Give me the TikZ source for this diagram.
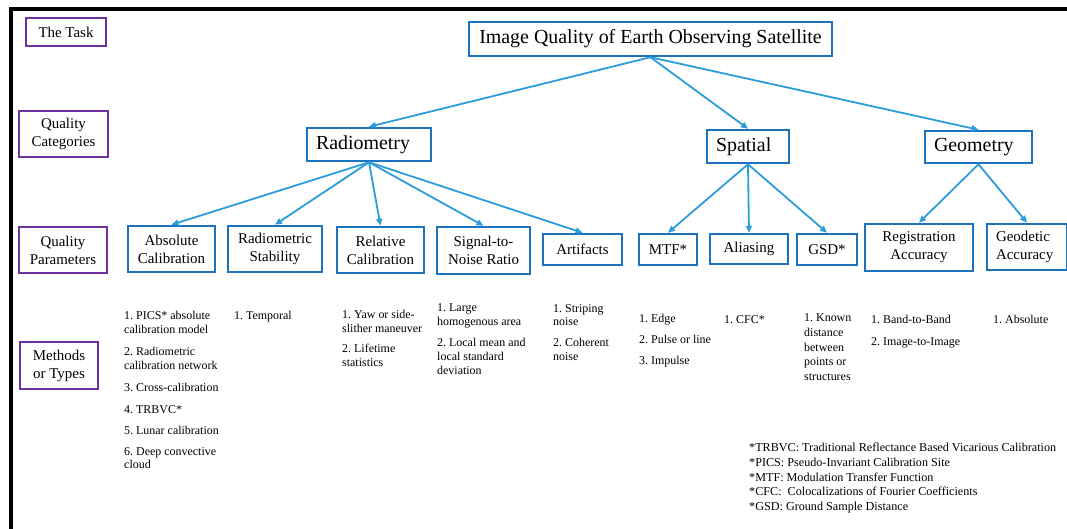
\documentclass[tikz,border=0pt]{standalone}
\usepackage{fontspec}
\setmainfont{Liberation Serif}
\frenchspacing
\usetikzlibrary{arrows.meta}
\definecolor{boxblue}{HTML}{1E73BE}
\definecolor{arrblue}{HTML}{2D9CDB}
\definecolor{labpurple}{HTML}{7030A0}
\begin{document}
\begin{tikzpicture}[x=1bp,y=-1bp,
  purp/.style={draw=labpurple, line width=2bp, inner sep=0pt, align=center, font=\fontsize{15}{18}\selectfont},
  pbox/.style={draw=boxblue, line width=2.5bp, inner sep=0pt, align=center, font=\fontsize{15}{18}\selectfont},
  catbox/.style={draw=boxblue, line width=2.5bp, inner ysep=0pt, inner xsep=9bp, align=left, font=\fontsize{20}{24}\selectfont},
  arr/.style={draw=arrblue, line width=1.8bp, -{Triangle[length=7bp,width=6bp]}},
  meth/.style={anchor=north west, align=left, inner sep=0pt, yshift=8.1bp, font=\fontsize{12}{14}\selectfont},
  note/.style={anchor=north west, align=left, inner sep=0pt, yshift=8bp, font=\fontsize{12.2}{14.75}\selectfont}]
\useasboundingbox (0,0) rectangle (1067,529);
\fill[white] (0,0) rectangle (1067,529);
% frame
\draw[line width=3.5bp] (11,529) -- (11,9) -- (1067,9);

% left labels
\node[purp, minimum width=80bp, minimum height=28bp] (task) at (66,32) {The Task};
\node[purp, minimum width=89bp, minimum height=46bp] (qcat) at (63.5,134) {Quality\\Categories};
\node[purp, minimum width=88bp, minimum height=46bp] (qpar) at (63,250) {Quality\\Parameters};
\node[purp, minimum width=78bp, minimum height=47bp] (meth) at (59,365.5) {Methods\\or Types};

% main
\node[catbox, minimum width=363bp, minimum height=34bp, align=center, inner xsep=0pt] (main) at (650.5,39) {Image Quality of Earth Observing Satellite};

% categories
\node[catbox, text width=106bp, minimum height=33bp] (radio) at (369,144.5) {Radiometry};
\node[catbox, text width=64bp, minimum height=33bp] (spatial) at (748,146.5) {Spatial};
\node[catbox, text width=89bp, minimum height=32bp] (geom) at (978.5,147) {Geometry};

% parameters
\node[pbox, minimum width=87bp, minimum height=46bp] (abs) at (171.5,249) {Absolute\\Calibration};
\node[pbox, minimum width=94bp, minimum height=46bp] (stab) at (275,249) {Radiometric\\Stability};
\node[pbox, minimum width=87bp, minimum height=46bp] (rel) at (380.5,250) {Relative\\Calibration};
\node[pbox, minimum width=93bp, minimum height=47bp] (snr) at (483.5,250.5) {Signal-to-\\Noise Ratio};
\node[pbox, minimum width=79bp, minimum height=31bp] (art) at (582.5,249.5) {Artifacts};
\node[pbox, minimum width=58bp, minimum height=31bp] (mtf) at (668,249.5) {MTF*};
\node[pbox, minimum width=78bp, minimum height=30bp] (alias) at (749,249) {Aliasing};
\node[pbox, minimum width=60bp, minimum height=31bp] (gsd) at (827,249.5) {GSD*};
\node[pbox, minimum width=108bp, minimum height=47bp] (reg) at (919,247.5) {Registration\\Accuracy};
\node[pbox, minimum width=80bp, minimum height=46bp, align=left, text width=62bp, inner xsep=9bp] (geo) at (1027,247) {Geodetic\\Accuracy};

% connectors
\draw[arr] (main.south) -- (radio.north);
\draw[arr] (main.south) -- (spatial.north);
\draw[arr] (main.south) -- (geom.north);
\draw[arr] (radio.south) -- (abs.north);
\draw[arr] (radio.south) -- (stab.north);
\draw[arr] (radio.south) -- (rel.north);
\draw[arr] (radio.south) -- (snr.north);
\draw[arr] (radio.south) -- (art.north);
\draw[arr] (spatial.south) -- (mtf.north);
\draw[arr] (spatial.south) -- (alias.north);
\draw[arr] (spatial.south) -- (gsd.north);
\draw[arr] (geom.south) -- (reg.north);
\draw[arr] (geom.south) -- (geo.north);

% methods (y = baseline of first line)
\node[meth] (mabs) at (124,319) {1. PICS* absolute\\calibration model\\[8bp]2. Radiometric\\calibration network\\[8bp]3. Cross-calibration\\[8bp]4. TRBVC*\\[7bp]5. Lunar calibration\\[7bp]6. Deep convective\\cloud};
\node[meth] (mstab) at (234,319) {1. Temporal};
\node[meth] (mrel) at (342,318) {1. Yaw or side-\\slither maneuver\\[6bp]2. Lifetime\\statistics};
\node[meth] (msnr) at (437,312) {1. Large\\homogenous area\\[7bp]2. Local mean and\\local standard\\deviation};
\node[meth] (mart) at (553,312) {1. Striping\\noise\\[7bp]2. Coherent\\noise};
\node[meth] (mmtf) at (639,322) {1. Edge\\[7bp]2. Pulse or line\\[7bp]3. Impulse};
\node[meth] (malias) at (724,323) {1. CFC*};
\node[meth, font=\fontsize{12}{14.7}\selectfont] (mgsd) at (804,322) {1. Known\\distance\\between\\points or\\structures};
\node[meth] (mreg) at (871,323) {1. Band-to-Band\\[8bp]2. Image-to-Image};
\node[meth] (mgeo) at (993,323) {1. Absolute};

% footnotes
\node[note] (notes) at (749,451) {*TRBVC: Traditional Reflectance Based Vicarious Calibration\\*PICS: Pseudo-Invariant Calibration Site\\*MTF: Modulation Transfer Function\\*CFC:\ \ Colocalizations of Fourier Coefficients\\*GSD: Ground Sample Distance};
\end{tikzpicture}
\end{document}
